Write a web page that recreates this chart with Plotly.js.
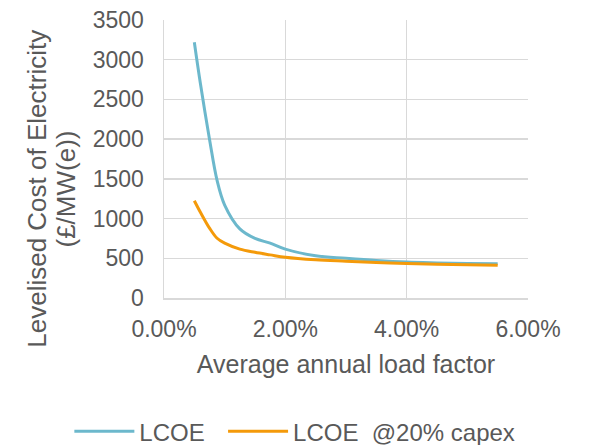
<!DOCTYPE html>
<html>
<head>
<meta charset="utf-8">
<script src="https://cdn.plot.ly/plotly-3.0.1.min.js"></script>
<style>
  html, body { margin: 0; padding: 0; background: #ffffff; }
  #chart { width: 593px; height: 445px; }
</style>
</head>
<body>
<div id="chart"></div>
<script>
// Average annual load factor (fraction) and levelised cost (£/MW(e))
const loadFactor = [0.005, 0.006, 0.0075, 0.00875, 0.01, 0.0125, 0.015, 0.0175, 0.02, 0.025, 0.03, 0.035, 0.04, 0.045, 0.05, 0.055];
const lcoe       = [3220, 2700, 2000, 1480, 1170, 870, 750, 690, 615, 532, 500, 472, 452, 442, 435, 430];
const lcoeCapex  = [1225, 1080, 880, 752, 690, 615, 575, 543, 512, 480, 463, 448, 435, 425, 418, 413];
const seriesNames = ['LCOE\u00a0\u00a0', 'LCOE\u00a0\u00a0@20% capex'];
const yTitleLines = ['Levelised Cost of Electricity', '(£/MW(e))'];
const xTitle = 'Average annual load factor';

const FONT = 'Liberation Sans, Arial, sans-serif';
const GREY = '#595959';
const GRID = '#d9d9d9';

const traces = [
  {
    x: loadFactor, y: lcoe, name: seriesNames[0], type: 'scatter', mode: 'lines',
    line: { color: '#6cb8cc', width: 3, shape: 'spline', smoothing: 1 }
  },
  {
    x: loadFactor, y: lcoeCapex, name: seriesNames[1], type: 'scatter', mode: 'lines',
    line: { color: '#f49a0a', width: 3, shape: 'spline', smoothing: 1 }
  }
];

// two-line rotated y-axis title, one annotation per line
const yTitleX = [-0.3497, -0.2679];
const yTitleAnnotations = yTitleLines.map((t, i) => ({
  text: t,
  xref: 'paper', yref: 'paper', x: yTitleX[i], y: 0.392,
  xanchor: 'center', yanchor: 'middle', textangle: -90,
  showarrow: false, font: { family: FONT, size: 26, color: GREY }
}));

const layout = {
  width: 593, height: 445,
  margin: { l: 164, r: 65, t: 20, b: 147, autoexpand: false },
  paper_bgcolor: '#ffffff', plot_bgcolor: '#ffffff',
  font: { family: FONT, color: GREY, size: 23 },
  showlegend: true,
  xaxis: {
    range: [0, 0.06], dtick: 0.02, tickformat: '.2%',
    showgrid: true, gridcolor: GRID, gridwidth: 1.5,
    showline: true, linecolor: GRID, linewidth: 1.5, mirror: false,
    zeroline: false, ticks: '', ticklabelstandoff: 10, automargin: false,
    tickfont: { family: FONT, size: 23, color: GREY },
    title: { text: xTitle, font: { family: FONT, size: 25, color: GREY }, standoff: 14 },
    fixedrange: true
  },
  yaxis: {
    range: [0, 3500], dtick: 500,
    showgrid: true, gridcolor: GRID, gridwidth: 1.5,
    showline: true, linecolor: GRID, linewidth: 1.5,
    zeroline: false, ticks: '', ticklabelstandoff: 14, automargin: false,
    tickfont: { family: FONT, size: 23, color: GREY },
    fixedrange: true
  },
  annotations: yTitleAnnotations,
  legend: {
    orientation: 'h', x: -0.26, xanchor: 'left', y: -0.4, yanchor: 'top',
    font: { family: FONT, size: 24, color: GREY }, itemwidth: 60,
    bgcolor: 'rgba(0,0,0,0)'
  }
};

Plotly.newPlot('chart', traces, layout, { displayModeBar: false, staticPlot: true });
</script>
</body>
</html>
